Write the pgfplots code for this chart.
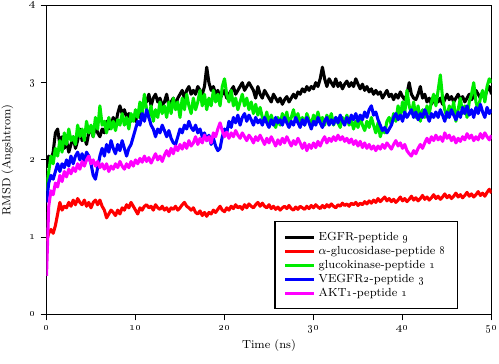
\documentclass[border=0pt]{standalone}
\usepackage{pgfplots}
\pgfplotsset{compat=1.18}
\usepackage{pgfplotstable}
\pgfplotstableread{
x b r g bl m
0 1.90 0.95 1.60 1.45 0.50
0.25 2.05 1.05 1.85 1.70 1.40
0.5 2.00 1.10 2.05 1.80 1.60
0.75 2.10 1.05 1.95 1.75 1.55
1 2.35 1.15 2.15 1.85 1.70
1.25 2.40 1.30 2.05 1.95 1.65
1.5 2.20 1.45 2.25 1.85 1.80
1.75 2.30 1.35 2.10 1.95 1.72
2 2.15 1.40 2.35 1.90 1.85
2.25 2.25 1.38 2.20 2.00 1.78
2.5 2.10 1.45 2.40 1.92 1.88
2.75 2.20 1.40 2.25 2.05 1.82
3 2.30 1.48 2.30 1.95 1.90
3.25 2.15 1.42 2.20 2.05 1.85
3.5 2.25 1.50 2.45 2.10 1.95
3.75 2.40 1.45 2.30 2.00 1.88
4 2.25 1.42 2.40 2.08 1.98
4.25 2.30 1.48 2.25 1.98 1.92
4.5 2.20 1.40 2.50 2.10 2.00
4.75 2.35 1.45 2.35 2.05 2.05
5 2.40 1.38 2.45 1.95 1.95
5.25 2.30 1.45 2.30 1.80 2.00
5.5 2.45 1.48 2.55 1.75 1.92
5.75 2.35 1.42 2.40 1.90 1.98
6 2.30 1.48 2.70 2.05 1.90
6.25 2.40 1.40 2.45 2.15 1.95
6.5 2.35 1.35 2.50 2.05 1.88
6.75 2.50 1.25 2.35 2.20 1.95
7 2.40 1.30 2.55 2.10 1.85
7.25 2.45 1.35 2.40 2.25 1.92
7.5 2.55 1.32 2.50 2.15 1.88
7.75 2.45 1.28 2.38 2.08 1.95
8 2.60 1.35 2.52 2.20 1.90
8.25 2.70 1.30 2.45 2.12 1.98
8.5 2.60 1.38 2.60 2.25 1.92
8.75 2.65 1.35 2.45 2.15 1.88
9 2.55 1.42 2.55 2.05 1.95
9.25 2.60 1.38 2.40 2.15 1.90
9.5 2.50 1.45 2.60 2.20 1.98
9.75 2.55 1.40 2.50 2.30 1.92
10 2.50 1.35 2.65 2.40 2.00
10.25 2.60 1.30 2.55 2.50 1.95
10.5 2.55 1.38 2.75 2.45 2.02
10.75 2.65 1.35 2.60 2.60 1.97
11 2.80 1.40 2.85 2.50 2.05
11.25 2.75 1.42 2.65 2.65 1.98
11.5 2.85 1.38 2.55 2.55 2.03
11.75 2.70 1.40 2.70 2.45 1.96
12 2.80 1.35 2.50 2.40 2.02
12.25 2.85 1.42 2.65 2.30 2.08
12.5 2.75 1.38 2.55 2.40 2.00
12.75 2.80 1.36 2.75 2.35 2.05
13 2.70 1.40 2.60 2.45 1.98
13.25 2.75 1.35 2.70 2.38 2.06
13.5 2.85 1.38 2.55 2.30 2.12
13.75 2.70 1.33 2.75 2.38 2.05
14 2.75 1.38 2.60 2.28 2.15
14.25 2.80 1.36 2.80 2.22 2.08
14.5 2.70 1.40 2.65 2.20 2.18
14.75 2.80 1.35 2.75 2.30 2.12
15 2.85 1.38 2.55 2.40 2.20
15.25 2.90 1.42 2.80 2.35 2.14
15.5 2.80 1.45 2.65 2.45 2.22
15.75 2.90 1.40 2.85 2.40 2.15
16 2.95 1.38 2.70 2.50 2.25
16.25 2.85 1.35 2.60 2.42 2.18
16.5 2.90 1.38 2.80 2.38 2.22
16.75 2.85 1.32 2.65 2.45 2.30
17 2.95 1.30 2.75 2.35 2.20
17.25 2.90 1.34 2.90 2.40 2.28
17.5 2.85 1.28 2.70 2.30 2.22
17.75 2.95 1.32 2.85 2.35 2.32
18 3.20 1.27 2.65 2.25 2.25
18.25 3.00 1.32 2.80 2.32 2.30
18.5 2.90 1.30 2.70 2.20 2.22
18.75 2.95 1.35 2.90 2.28 2.35
19 2.85 1.32 2.75 2.18 2.30
19.25 2.90 1.36 2.85 2.12 2.40
19.5 2.80 1.40 2.70 2.15 2.48
19.75 2.85 1.35 2.95 2.30 2.38
20 2.90 1.33 3.05 2.40 2.30
20.25 2.80 1.38 2.85 2.35 2.36
20.5 2.85 1.35 2.75 2.50 2.28
20.75 2.90 1.40 2.90 2.42 2.35
21 2.95 1.37 2.70 2.55 2.30
21.25 2.85 1.42 2.80 2.48 2.38
21.5 2.90 1.38 2.65 2.58 2.32
21.75 2.95 1.40 2.75 2.45 2.28
22 3.00 1.36 2.85 2.55 2.35
22.25 2.90 1.42 2.70 2.60 2.30
22.5 2.95 1.38 2.80 2.50 2.25
22.75 3.00 1.43 2.65 2.58 2.32
23 2.95 1.40 2.75 2.52 2.28
23.25 2.90 1.38 2.60 2.45 2.22
23.5 2.80 1.42 2.72 2.55 2.30
23.75 2.95 1.45 2.58 2.48 2.25
24 2.85 1.40 2.68 2.52 2.32
24.25 2.80 1.44 2.55 2.45 2.26
24.5 2.90 1.40 2.50 2.55 2.20
24.75 2.85 1.38 2.62 2.48 2.28
25 2.80 1.42 2.45 2.42 2.22
25.25 2.75 1.37 2.58 2.52 2.30
25.5 2.85 1.40 2.48 2.45 2.24
25.75 2.80 1.36 2.42 2.55 2.18
26 2.75 1.39 2.55 2.48 2.26
26.25 2.80 1.35 2.45 2.52 2.20
26.5 2.72 1.38 2.60 2.45 2.28
26.75 2.78 1.40 2.50 2.55 2.22
27 2.82 1.37 2.62 2.48 2.30
27.25 2.75 1.41 2.45 2.42 2.24
27.5 2.80 1.37 2.55 2.50 2.18
27.75 2.85 1.35 2.65 2.45 2.25
28 2.80 1.39 2.50 2.55 2.20
28.25 2.88 1.36 2.60 2.48 2.28
28.5 2.85 1.40 2.48 2.42 2.22
28.75 2.92 1.38 2.55 2.52 2.15
29 2.88 1.36 2.45 2.45 2.22
29.25 2.95 1.40 2.60 2.55 2.12
29.5 2.90 1.37 2.52 2.48 2.20
29.75 2.95 1.41 2.45 2.40 2.15
30 2.92 1.38 2.58 2.50 2.22
30.25 3.00 1.42 2.50 2.45 2.16
30.5 2.95 1.39 2.62 2.55 2.24
30.75 3.05 1.37 2.48 2.48 2.18
31 3.20 1.41 2.55 2.42 2.25
31.25 3.05 1.38 2.45 2.50 2.30
31.5 2.95 1.42 2.58 2.55 2.22
31.75 3.05 1.39 2.50 2.45 2.28
32 3.00 1.43 2.60 2.52 2.24
32.25 2.95 1.40 2.45 2.46 2.30
32.5 3.05 1.38 2.55 2.55 2.25
32.75 2.95 1.42 2.48 2.48 2.32
33 3.00 1.40 2.42 2.58 2.26
33.25 2.92 1.44 2.55 2.50 2.30
33.5 2.98 1.41 2.48 2.45 2.24
33.75 3.02 1.43 2.58 2.55 2.28
34 2.95 1.40 2.45 2.48 2.22
34.25 3.00 1.44 2.52 2.58 2.27
34.5 2.95 1.42 2.40 2.52 2.20
34.75 3.05 1.45 2.50 2.60 2.25
35 2.98 1.41 2.42 2.50 2.18
35.25 2.92 1.44 2.55 2.58 2.24
35.5 2.98 1.42 2.45 2.52 2.16
35.75 2.90 1.46 2.38 2.62 2.22
36 2.95 1.43 2.50 2.55 2.15
36.25 2.88 1.47 2.42 2.65 2.20
36.5 2.92 1.44 2.55 2.70 2.14
36.75 2.85 1.48 2.45 2.58 2.18
37 2.90 1.45 2.35 2.62 2.12
37.25 2.85 1.50 2.48 2.52 2.18
37.5 2.88 1.46 2.30 2.45 2.14
37.75 2.80 1.49 2.40 2.38 2.20
38 2.85 1.52 2.35 2.42 2.15
38.25 2.90 1.47 2.50 2.35 2.22
38.5 2.82 1.50 2.55 2.40 2.18
38.75 2.85 1.46 2.45 2.45 2.14
39 2.78 1.49 2.60 2.55 2.20
39.25 2.85 1.45 2.50 2.60 2.25
39.5 2.80 1.48 2.70 2.52 2.18
39.75 2.88 1.52 2.55 2.58 2.22
40 2.82 1.47 2.75 2.50 2.15
40.25 2.78 1.50 2.60 2.62 2.20
40.5 2.85 1.46 2.90 2.55 2.12
40.75 3.00 1.49 2.70 2.60 2.08
41 2.85 1.53 2.60 2.65 2.05
41.25 2.80 1.48 2.75 2.55 2.12
41.5 2.78 1.51 2.55 2.62 2.08
41.75 2.85 1.47 2.70 2.52 2.15
42 2.95 1.50 2.50 2.60 2.20
42.25 2.80 1.54 2.65 2.55 2.15
42.5 2.85 1.49 2.55 2.65 2.22
42.75 2.75 1.52 2.70 2.58 2.28
43 2.80 1.48 2.60 2.50 2.22
43.25 2.72 1.51 2.75 2.60 2.30
43.5 2.78 1.55 2.85 2.55 2.25
43.75 2.82 1.50 2.70 2.62 2.32
44 2.75 1.53 2.90 2.55 2.26
44.25 2.80 1.49 3.10 2.65 2.30
44.5 2.72 1.52 2.80 2.58 2.24
44.75 2.78 1.56 2.65 2.50 2.35
45 2.85 1.51 2.55 2.62 2.28
45.25 2.78 1.54 2.70 2.55 2.32
45.5 2.82 1.50 2.60 2.65 2.25
45.75 2.75 1.53 2.75 2.58 2.30
46 2.80 1.57 2.50 2.52 2.22
46.25 2.85 1.52 2.65 2.62 2.28
46.5 2.78 1.55 2.80 2.55 2.24
46.75 2.82 1.51 2.60 2.68 2.30
47 2.75 1.54 2.70 2.60 2.26
47.25 2.80 1.58 2.55 2.70 2.34
47.5 2.85 1.53 2.75 2.58 2.28
47.75 2.78 1.56 2.85 2.65 2.32
48 2.82 1.52 3.00 2.55 2.25
48.25 2.90 1.55 2.75 2.68 2.30
48.5 2.85 1.59 2.65 2.60 2.26
48.75 2.80 1.54 2.80 2.72 2.34
49 2.88 1.57 2.90 2.62 2.28
49.25 2.82 1.53 2.75 2.55 2.35
49.5 2.90 1.58 2.95 2.68 2.30
49.75 2.95 1.62 3.05 2.60 2.26
50 2.85 1.57 3.00 2.65 2.32
}\rmsd
\definecolor{lgreen}{RGB}{0,235,0}
\definecolor{pmag}{RGB}{255,0,255}
\definecolor{pred}{RGB}{255,0,0}
\definecolor{pblue}{RGB}{0,0,255}
\begin{document}
\begin{tikzpicture}
\useasboundingbox (-1.118cm,-1.178cm) rectangle (10.88cm,7.56cm);
\begin{axis}[
  at={(0,0)}, anchor=south west,
  scale only axis, width=10.70cm, height=7.43cm,
  xmin=0, xmax=50, ymin=0, ymax=4,
  xtick={0,10,20,30,40,50},
  xticklabels={\oldstylenums{0},\oldstylenums{10},\oldstylenums{20},\oldstylenums{30},\oldstylenums{40},\oldstylenums{50}},
  ytick={0,1,2,3,4},
  yticklabels={\oldstylenums{0},\oldstylenums{1},\oldstylenums{2},\oldstylenums{3},\oldstylenums{4}},
  tick align=outside, xtick pos=bottom, ytick pos=left,
  major tick length=4pt,
  axis line style={line width=1pt},
  every tick/.style={black, line width=0.6pt},
  tick label style={font=\footnotesize},
  xlabel={Time (ns)}, ylabel={RMSD (Angshtrom)},
  label style={font=\footnotesize},
  xlabel style={yshift=2pt},
  ylabel style={yshift=4pt},
  legend style={at={(0.925,0.016)}, anchor=south east, draw=black, line width=0.8pt,
    font=\footnotesize, row sep=-1.5pt, inner xsep=6pt, inner ysep=5pt},
  legend cell align=left,
  legend image code/.code={\draw[#1, line width=2pt] (0cm,0cm) -- (0.7cm,0cm);},
  every axis plot/.append style={line width=2.1pt, line join=round},
]
\addplot[black] table[x=x, y=b] {\rmsd};
\addlegendentry{EGFR-peptide \oldstylenums{9}}
\addplot[pred] table[x=x, y=r] {\rmsd};
\addlegendentry{$\alpha$-glucosidase-peptide \oldstylenums{8}}
\addplot[lgreen] table[x=x, y=g] {\rmsd};
\addlegendentry{glucokinase-peptide \oldstylenums{1}}
\addplot[pblue] table[x=x, y=bl] {\rmsd};
\addlegendentry{VEGFR\oldstylenums{2}-peptide \oldstylenums{3}}
\addplot[pmag] table[x=x, y=m] {\rmsd};
\addlegendentry{AKT\oldstylenums{1}-peptide \oldstylenums{1}}
\end{axis}
\end{tikzpicture}
\end{document}
